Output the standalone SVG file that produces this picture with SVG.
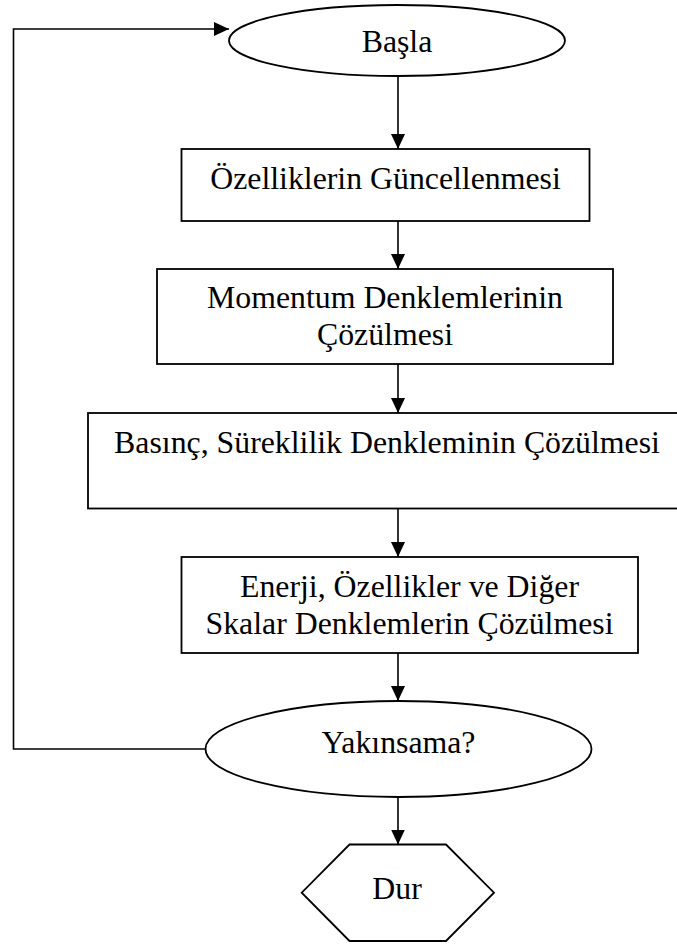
<svg xmlns="http://www.w3.org/2000/svg" width="677" height="945" viewBox="0 0 677 945">
<style>
.shape{fill:#fff;stroke:#000;stroke-width:1.8}
.lbl{font-family:"Liberation Serif","Times New Roman",serif;font-size:31.8px;fill:#000;text-anchor:middle}
.conn{fill:none;stroke:#000;stroke-width:1.6}
</style>
<defs>
<marker id="ah" markerUnits="userSpaceOnUse" markerWidth="16" markerHeight="15" refX="15" refY="7" orient="auto">
<path d="M0,0 L15,7 L0,14 z" fill="#000"/>
</marker>
</defs>
<g id="connectors">
<line class="conn" x1="398" y1="76" x2="398" y2="149" marker-end="url(#ah)"/>
<line class="conn" x1="398" y1="221" x2="398" y2="269" marker-end="url(#ah)"/>
<line class="conn" x1="398" y1="364" x2="398" y2="413" marker-end="url(#ah)"/>
<line class="conn" x1="398" y1="508.5" x2="398" y2="557" marker-end="url(#ah)"/>
<line class="conn" x1="398" y1="653" x2="398" y2="701" marker-end="url(#ah)"/>
<line class="conn" x1="398" y1="797" x2="398" y2="844.5" marker-end="url(#ah)"/>
<polyline class="conn" points="205.5,749 13.5,749 13.5,29 229,29" marker-end="url(#ah)"/>
</g>
<g id="basla">
<ellipse class="shape" cx="397" cy="40.5" rx="168" ry="35.5"/>
<text class="lbl" x="397" y="52">Başla</text>
</g>
<g id="guncelleme">
<rect class="shape" x="181.5" y="149" width="408" height="72"/>
<text class="lbl" x="385.5" y="189">Özelliklerin Güncellenmesi</text>
</g>
<g id="momentum">
<rect class="shape" x="157" y="269" width="456" height="95"/>
<text class="lbl" x="385" y="308">Momentum Denklemlerinin</text>
<text class="lbl" x="385" y="345">Çözülmesi</text>
</g>
<g id="basinc">
<rect class="shape" x="88" y="413" width="602" height="95.5"/>
<text class="lbl" x="387" y="453">Basınç, Süreklilik Denkleminin Çözülmesi</text>
</g>
<g id="enerji">
<rect class="shape" x="181.5" y="557" width="456.5" height="96"/>
<text class="lbl" x="409.5" y="597">Enerji, Özellikler ve Diğer</text>
<text class="lbl" x="409.5" y="634">Skalar Denklemlerin Çözülmesi</text>
</g>
<g id="yakinsama">
<ellipse class="shape" cx="398.5" cy="749" rx="193" ry="48"/>
<text class="lbl" x="398.5" y="753">Yakınsama?</text>
</g>
<g id="dur">
<polygon class="shape" points="349.5,844.5 446,844.5 494,892.7 446,941 349.5,941 301.7,892.7"/>
<text class="lbl" x="397" y="898.5">Dur</text>
</g>
</svg>
